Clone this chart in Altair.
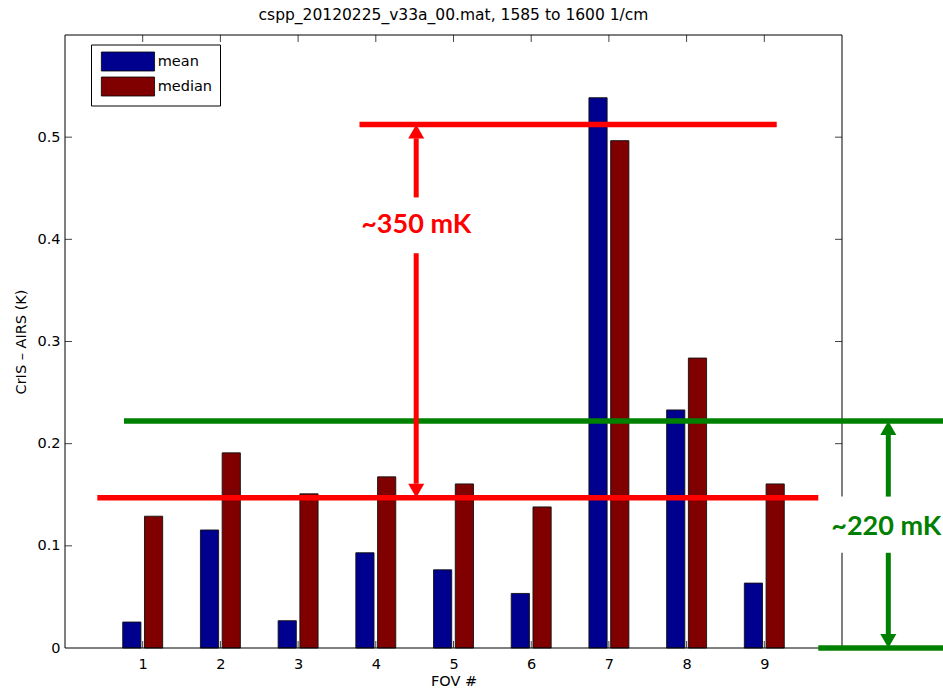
import altair as alt
import pandas as pd

# ---------------- data ----------------
fov = [1, 2, 3, 4, 5, 6, 7, 8, 9]
mean_vals = [0.0254, 0.1155, 0.0267, 0.0932, 0.0765, 0.0534, 0.5386, 0.2330, 0.0635]
median_vals = [0.1290, 0.1910, 0.1509, 0.1675, 0.1606, 0.1381, 0.4966, 0.2838, 0.1606]
series_names = ["mean", "median"]
series_colors = ["#00008F", "#800000"]
y_ticks = [0, 0.1, 0.2, 0.3, 0.4, 0.5]
x_domain = [0, 10]
y_domain = [0, 0.6]

title_text = "cspp_20120225_v33a_00.mat, 1585 to 1600 1/cm"
x_title = "FOV #"
y_title = "CrIS – AIRS (K)"

# annotations (in data units)
red_label = "~350 mK"
red_levels = [0.5125, 0.1471]
red_top_span = [3.79, 9.16]
red_bottom_span = [0.416, 9.695]
red_arrow_x = 4.52
red_text_y = 0.4138
red_gap = [0.441, 0.3864]

green_label = "~220 mK"
green_levels = [0.2222, 0.0]
green_top_span = [0.759, 11.45]
green_bottom_span = [9.695, 11.45]
green_arrow_x = 10.596
green_text_x = 10.57
green_text_y = 0.1189
green_gap = [0.1482, 0.0932]
green_box_x = [9.897, 11.26]

# ---------------- layout / style ----------------
W, H = 777, 613
FONT = "DejaVu Sans"
FS = 14.5
RED = "#FF0000"
GREEN = "#008000"
BAR_GAP = 0.023
BAR_W = 0.234
TICK = 7
LINE_W = 5.5
HEAD_PX = 14
head_h = HEAD_PX * (y_domain[1] - y_domain[0]) / H

xscale = alt.Scale(domain=x_domain, nice=False, zero=False)
yscale = alt.Scale(domain=y_domain, nice=False, zero=False)
xaxis = alt.Axis(values=fov, title=x_title, domain=False, ticks=False, tickSize=0,
                 grid=False, labelPadding=9, titlePadding=4, labelFont=FONT,
                 labelFontSize=FS, titleFont=FONT, titleFontSize=FS,
                 titleFontWeight="normal", labelColor="black", titleColor="black")
yaxis = alt.Axis(values=y_ticks, format="~g", title=y_title, domain=False, ticks=False,
                 tickSize=0, grid=False, labelPadding=5, titlePadding=8, labelFont=FONT,
                 labelFontSize=FS, titleFont=FONT, titleFontSize=FS,
                 titleFontWeight="normal", labelColor="black", titleColor="black")


def X(field):
    return alt.X(field, type="quantitative", scale=xscale, axis=xaxis)


def Y(field):
    return alt.Y(field, type="quantitative", scale=yscale, axis=yaxis)


# bars
rows = []
for f, m, md in zip(fov, mean_vals, median_vals):
    rows.append({"fov": f, "series": series_names[0], "value": m,
                 "x0": f - BAR_GAP - BAR_W, "x1": f - BAR_GAP, "base": 0.0})
    rows.append({"fov": f, "series": series_names[1], "value": md,
                 "x0": f + BAR_GAP, "x1": f + BAR_GAP + BAR_W, "base": 0.0})
bars_df = pd.DataFrame(rows)

legend_path = "M-0.7,-1L4.9,-1L4.9,1L-0.7,1Z"
bars = alt.Chart(bars_df).mark_rect(stroke="#111111", strokeWidth=0.9).encode(
    x=X("x0"), x2="x1", y=Y("value"), y2="base",
    color=alt.Color("series:N", scale=alt.Scale(domain=series_names, range=series_colors),
                    legend=alt.Legend(orient="none", legendX=26, legendY=9.5, title=None,
                                      symbolType=legend_path, symbolSize=361,
                                      symbolStrokeColor="black", symbolStrokeWidth=0.8,
                                      symbolOpacity=1, labelFont=FONT, labelFontSize=FS,
                                      labelColor="black", labelOffset=39.7, padding=7,
                                      rowPadding=1, strokeColor="black", fillColor="white")),
)

# frame
frame_df = pd.DataFrame({
    "x": [x_domain[0], x_domain[1], x_domain[0], x_domain[0]],
    "x2": [x_domain[0], x_domain[1], x_domain[1], x_domain[1]],
    "y": [y_domain[0], y_domain[0], y_domain[0], y_domain[1]],
    "y2": [y_domain[1], y_domain[1], y_domain[0], y_domain[1]],
})
frame = alt.Chart(frame_df).mark_rule(color="black", strokeWidth=1).encode(
    x=X("x"), x2="x2", y=Y("y"), y2="y2")

# inward ticks
xt_df = pd.DataFrame({"t": fov})
yt_df = pd.DataFrame({"t": y_ticks[1:]})
tick_style = dict(color="#444444", strokeWidth=1)
ticks_bottom = alt.Chart(xt_df).mark_rule(**tick_style).encode(
    x=X("t"), y=alt.value(H), y2=alt.value(H - TICK))
ticks_top = alt.Chart(xt_df).mark_rule(**tick_style).encode(
    x=X("t"), y=alt.value(0), y2=alt.value(TICK))
ticks_left = alt.Chart(yt_df).mark_rule(**tick_style).encode(
    y=Y("t"), x=alt.value(0), x2=alt.value(TICK))
ticks_right = alt.Chart(yt_df).mark_rule(**tick_style).encode(
    y=Y("t"), x=alt.value(W), x2=alt.value(W - TICK))

# annotation lines
red_lines_df = pd.DataFrame({
    "x": [red_top_span[0], red_bottom_span[0]],
    "x2": [red_top_span[1], red_bottom_span[1]],
    "y": red_levels,
})
green_lines_df = pd.DataFrame({
    "x": [green_top_span[0], green_bottom_span[0]],
    "x2": [green_top_span[1], green_bottom_span[1]],
    "y": green_levels,
})
red_lines = alt.Chart(red_lines_df).mark_rule(color=RED, strokeWidth=LINE_W).encode(
    x=X("x"), x2="x2", y=Y("y"))
green_lines = alt.Chart(green_lines_df).mark_rule(color=GREEN, strokeWidth=LINE_W).encode(
    x=X("x"), x2="x2", y=Y("y"))

# white box behind green label
box_df = pd.DataFrame({"x": [green_box_x[0]], "x2": [green_box_x[1]],
                       "y": [green_gap[0]], "y2": [green_gap[1]]})
box = alt.Chart(box_df).mark_rect(color="white").encode(
    x=X("x"), x2="x2", y=Y("y"), y2="y2")

# arrow shafts
red_shaft_df = pd.DataFrame({
    "x": [red_arrow_x, red_arrow_x],
    "y": [red_levels[0] - head_h, red_gap[1]],
    "y2": [red_gap[0], red_levels[1] + head_h],
})
green_shaft_df = pd.DataFrame({
    "x": [green_arrow_x, green_arrow_x],
    "y": [green_levels[0] - head_h, green_gap[1]],
    "y2": [green_gap[0], green_levels[1] + head_h],
})
red_shafts = alt.Chart(red_shaft_df).mark_rule(color=RED, strokeWidth=5).encode(
    x=X("x"), y=Y("y"), y2="y2")
green_shafts = alt.Chart(green_shaft_df).mark_rule(color=GREEN, strokeWidth=5).encode(
    x=X("x"), y=Y("y"), y2="y2")

# arrow heads
UP = "M0,0L1,1.75L-1,1.75Z"
DOWN = "M0,0L1,-1.75L-1,-1.75Z"


def head(xv, yv, shape, color):
    df = pd.DataFrame({"x": [xv], "y": [yv]})
    return alt.Chart(df).mark_point(shape=shape, filled=True, size=256, opacity=1,
                                    color=color, strokeWidth=0).encode(x=X("x"), y=Y("y"))


heads = [
    head(red_arrow_x, red_levels[0], UP, RED),
    head(red_arrow_x, red_levels[1], DOWN, RED),
    head(green_arrow_x, green_levels[0], UP, GREEN),
    head(green_arrow_x, green_levels[1], DOWN, GREEN),
]

# labels
red_text = alt.Chart(pd.DataFrame({"x": [red_arrow_x], "y": [red_text_y], "t": [red_label]})).mark_text(
    font="Lato", fontWeight="bold", fontSize=27, color=RED, align="center", baseline="middle"
).encode(x=X("x"), y=Y("y"), text="t:N")
green_text = alt.Chart(pd.DataFrame({"x": [green_text_x], "y": [green_text_y], "t": [green_label]})).mark_text(
    font="Lato", fontWeight="bold", fontSize=27, color=GREEN, align="center", baseline="middle"
).encode(x=X("x"), y=Y("y"), text="t:N")

chart = alt.layer(
    ticks_bottom, ticks_top, ticks_left, ticks_right, bars, frame,
    red_lines, green_lines, box, red_shafts, green_shafts, *heads, red_text, green_text,
).properties(
    width=W, height=H,
    title=alt.TitleParams(title_text, font=FONT, fontSize=15.5, fontWeight="normal",
                          color="black", offset=11, anchor="middle"),
    padding={"left": 65, "top": 35, "right": 101, "bottom": 46},
    autosize=alt.AutoSizeParams(type="none"),
    background="white",
).configure_view(strokeWidth=0)

chart.save("out.html", embed_options={"renderer": "svg", "actions": False})
